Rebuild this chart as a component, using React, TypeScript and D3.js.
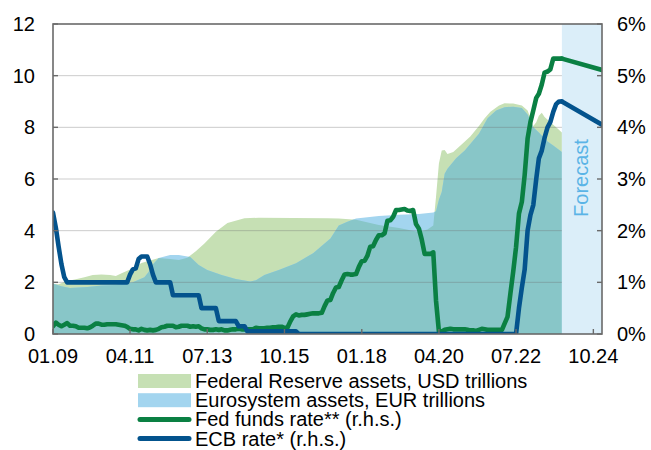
import React from "react";
import * as d3 from "d3";

// ---------- data ----------
const xTickLabels = ["01.09", "04.11", "07.13", "10.15", "01.18", "04.20", "07.22", "10.24"];
const xTickDates = ["2009-01", "2011-04", "2013-07", "2015-10", "2018-01", "2020-04", "2022-07", "2024-10"];
const leftTicks = [0, 2, 4, 6, 8, 10, 12];
const rightTickLabels = ["0%", "1%", "2%", "3%", "4%", "5%", "6%"];
const forecastStart = "2023-11";
const domainStart = "2009-01";
const domainEnd = "2025-01";

// Federal Reserve assets, USD trillions
const fedAssets: [string, number][] = [
  ["2009-01", 1.95], ["2009-03", 1.93], ["2009-06", 2.05], ["2009-09", 2.12], ["2009-12", 2.2],
  ["2010-03", 2.28], ["2010-06", 2.3], ["2010-09", 2.28], ["2010-11", 2.25], ["2011-01", 2.35],
  ["2011-05", 2.55], ["2011-08", 2.75], ["2011-11", 2.85], ["2012-02", 2.94], ["2012-06", 2.9],
  ["2012-09", 2.86], ["2012-12", 2.95], ["2013-03", 3.2], ["2013-06", 3.5], ["2013-10", 3.96],
  ["2014-02", 4.3], ["2014-08", 4.48], ["2015-01", 4.5], ["2016-01", 4.49], ["2017-01", 4.48],
  ["2017-05", 4.47], ["2017-11", 4.42], ["2018-07", 4.22], ["2019-02", 4.1], ["2019-09", 3.95],
  ["2019-12", 4.05], ["2020-02", 4.2], ["2020-03", 5.3], ["2020-04", 6.6], ["2020-05", 7.1],
  ["2020-06", 7.12], ["2020-07", 6.97], ["2020-09", 7.05], ["2020-12", 7.35], ["2021-03", 7.65],
  ["2021-06", 8.05], ["2021-08", 8.35], ["2021-10", 8.6], ["2022-01", 8.85], ["2022-03", 8.93],
  ["2022-06", 8.92], ["2022-09", 8.85], ["2022-11", 8.65], ["2023-01", 8.05], ["2023-02", 8.2],
  ["2023-03", 8.45], ["2023-04", 8.56], ["2023-05", 8.4], ["2023-07", 8.2], ["2023-09", 8.0],
  ["2023-11", 7.8],
];

// Eurosystem assets, EUR trillions
const ecbAssets: [string, number][] = [
  ["2009-01", 1.95], ["2009-04", 1.85], ["2009-07", 1.78], ["2010-01", 1.82], ["2010-06", 1.88],
  ["2010-11", 1.9], ["2011-05", 2.0], ["2011-09", 2.2], ["2011-11", 2.48], ["2011-12", 2.7],
  ["2012-02", 2.94], ["2012-06", 3.06], ["2012-09", 3.06], ["2013-01", 2.98], ["2013-04", 2.67],
  ["2013-07", 2.48], ["2013-12", 2.28], ["2014-05", 2.13], ["2014-10", 2.03], ["2014-12", 2.08],
  ["2015-03", 2.28], ["2015-08", 2.48], ["2016-02", 2.74], ["2016-08", 3.13], ["2017-02", 3.7],
  ["2017-05", 4.2], ["2017-08", 4.35], ["2017-11", 4.47], ["2018-07", 4.57], ["2019-02", 4.62],
  ["2019-09", 4.65], ["2020-02", 4.7], ["2020-03", 4.75], ["2020-04", 5.2], ["2020-05", 5.5],
  ["2020-06", 6.2], ["2020-07", 6.4], ["2020-10", 6.8], ["2021-01", 7.1], ["2021-06", 7.75],
  ["2021-09", 8.35], ["2021-12", 8.65], ["2022-03", 8.78], ["2022-06", 8.8], ["2022-09", 8.75],
  ["2022-11", 8.5], ["2023-01", 8.0], ["2023-03", 7.8], ["2023-06", 7.45], ["2023-08", 7.3],
  ["2023-11", 7.05],
];

// Fed funds rate, %, monthly from 2009-01 to 2023-11
const fedRate = [
  0.15, 0.22, 0.18, 0.15, 0.18, 0.21, 0.16, 0.16, 0.15, 0.12, 0.12, 0.12,
  0.11, 0.13, 0.16, 0.2, 0.2, 0.18, 0.18, 0.19, 0.19, 0.19, 0.19, 0.18,
  0.17, 0.16, 0.14, 0.1, 0.09, 0.09, 0.07, 0.1, 0.08, 0.07, 0.08, 0.07,
  0.08, 0.1, 0.13, 0.14, 0.16, 0.16, 0.16, 0.13, 0.14, 0.16, 0.16, 0.16,
  0.14, 0.15, 0.14, 0.15, 0.11, 0.09, 0.09, 0.08, 0.08, 0.09, 0.08, 0.09,
  0.07, 0.07, 0.08, 0.09, 0.09, 0.1, 0.09, 0.09, 0.09, 0.09, 0.09, 0.12,
  0.11, 0.11, 0.11, 0.12, 0.12, 0.13, 0.13, 0.14, 0.14, 0.12, 0.12, 0.24,
  0.34, 0.38, 0.36, 0.37, 0.37, 0.38, 0.39, 0.4, 0.4, 0.4, 0.41, 0.54,
  0.65, 0.66, 0.79, 0.9, 0.91, 1.04, 1.15, 1.16, 1.15, 1.15, 1.16, 1.3,
  1.41, 1.42, 1.51, 1.69, 1.7, 1.82, 1.91, 1.91, 1.95, 2.19, 2.2, 2.27,
  2.4, 2.4, 2.41, 2.42, 2.39, 2.38, 2.4, 2.13, 2.04, 1.83, 1.55, 1.55,
  1.55, 1.58, 0.65, 0.05, 0.05, 0.08, 0.09, 0.1, 0.09, 0.09, 0.09, 0.09,
  0.09, 0.08, 0.07, 0.07, 0.06, 0.08, 0.1, 0.09, 0.08, 0.08, 0.08, 0.08,
  0.08, 0.08, 0.2, 0.33, 0.77, 1.21, 1.68, 2.33, 2.56, 3.08, 3.78, 4.1,
  4.33, 4.57, 4.65, 4.83, 5.06, 5.08, 5.12, 5.33, 5.33, 5.33, 5.33,
];
const fedRateForecast: [string, number][] = [["2023-11", 5.33], ["2025-01", 5.11]];

// ECB rate, %, monthly from 2009-01 to 2023-11
const ecbRate = [
  2.35, 2.05, 1.7, 1.35, 1.1, 1.0, 1.0, 1.0, 1.0, 1.0, 1.0, 1.0,
  1.0, 1.0, 1.0, 1.0, 1.0, 1.0, 1.0, 1.0, 1.0, 1.0, 1.0, 1.0,
  1.0, 1.0, 1.0, 1.15, 1.25, 1.27, 1.45, 1.5, 1.5, 1.5, 1.35, 1.15,
  1.0, 1.0, 1.0, 1.0, 1.0, 1.0, 0.75, 0.75, 0.75, 0.75, 0.75, 0.75,
  0.75, 0.75, 0.75, 0.75, 0.5, 0.5, 0.5, 0.5, 0.5, 0.5, 0.25, 0.25,
  0.25, 0.25, 0.25, 0.25, 0.25, 0.15, 0.15, 0.15, 0.05, 0.05, 0.05, 0.05,
  0.05, 0.05, 0.05, 0.05, 0.05, 0.05, 0.05, 0.05, 0.05, 0.05, 0.05, 0.05,
  0.05, 0.05, 0, 0, 0, 0, 0, 0, 0, 0, 0, 0,
  0, 0, 0, 0, 0, 0, 0, 0, 0, 0, 0, 0,
  0, 0, 0, 0, 0, 0, 0, 0, 0, 0, 0, 0,
  0, 0, 0, 0, 0, 0, 0, 0, 0, 0, 0, 0,
  0, 0, 0, 0, 0, 0, 0, 0, 0, 0, 0, 0,
  0, 0, 0, 0, 0, 0, 0, 0, 0, 0, 0, 0,
  0, 0, 0, 0, 0, 0, 0, 0.5, 0.9, 1.25, 2.0, 2.3,
  2.5, 3.0, 3.4, 3.55, 3.8, 4.0, 4.1, 4.3, 4.45, 4.5, 4.5,
];
const ecbRateForecast: [string, number][] = [["2023-11", 4.5], ["2025-01", 4.05]];

const legendLabels = [
  "Federal Reserve assets, USD trillions",
  "Eurosystem assets, EUR trillions",
  "Fed funds rate** (r.h.s.)",
  "ECB rate* (r.h.s.)",
];

// ---------- style ----------
const C = {
  fedArea: "#c6e0b4",
  ecbArea: "#a3d5ef",
  overlap: "#88c6c8",
  fedLine: "#0a8043",
  ecbLine: "#03538d",
  band: "#dbeef9",
  forecastText: "#5ab4e6",
  frame: "#6a6a6a",
  grid: "rgba(110,110,110,0.35)",
};
const FONT = "'Liberation Sans', Arial, sans-serif";
const FS = 20;

const parse = d3.timeParse("%Y-%m");

export default function App() {
  const L = 53, R = 602, T = 24, B = 334;
  const x = d3.scaleTime().domain([parse(domainStart)!, parse(domainEnd)!]).range([L, R]);
  const yL = d3.scaleLinear().domain([0, 12]).range([B, T]);
  const yR = d3.scaleLinear().domain([0, 6]).range([B, T]);

  const toPts = (arr: [string, number][]) => arr.map(([d, v]) => ({ date: parse(d)!, v }));
  const monthly = (arr: number[]) =>
    arr.map((v, i) => ({ date: d3.timeMonth.offset(parse(domainStart)!, i), v }));

  const area = d3.area<{ date: Date; v: number }>()
    .x((d) => x(d.date)).y0(yL(0)).y1((d) => yL(d.v));
  const lineR = d3.line<{ date: Date; v: number }>()
    .x((d) => x(d.date)).y((d) => yR(d.v));

  const fedA = area(toPts(fedAssets))!;
  const ecbA = area(toPts(ecbAssets))!;
  const fedL = lineR(monthly(fedRate))!;
  const ecbL = lineR(monthly(ecbRate))!;
  const fedF = lineR(toPts(fedRateForecast))!;
  const ecbF = lineR(toPts(ecbRateForecast))!;
  const fx = x(parse(forecastStart)!);

  const lineStyle = { fill: "none", strokeWidth: 4.6, strokeLinejoin: "round" as const, strokeLinecap: "round" as const };

  return (
    <svg width={651} height={450} style={{ position: "absolute", left: 0, top: 0, background: "#fff" }}
      fontFamily={FONT} fontSize={FS}>
      <defs>
        <clipPath id="ecbClip"><path d={ecbA} /></clipPath>
        <clipPath id="plotClip"><rect x={L} y={T - 3} width={R - L} height={B - T + 3} /></clipPath>
      </defs>
      {/* areas */}
      <path d={fedA} fill={C.fedArea} />
      <path d={ecbA} fill={C.ecbArea} />
      <path d={fedA} fill={C.overlap} clipPath="url(#ecbClip)" />
      {/* grid */}
      {leftTicks.filter((t) => t > 0 && t < 12).map((t) => (
        <line key={t} x1={L} x2={R} y1={yL(t)} y2={yL(t)} stroke={C.grid} strokeWidth={1} />
      ))}
      {/* forecast band */}
      <rect x={fx} y={T} width={R - fx} height={B - T} fill={C.band} />
      <text transform={`translate(${fx + 19},${(T + B) / 2 - 1}) rotate(-90)`} textAnchor="middle"
        dominantBaseline="central" fill={C.forecastText}>Forecast</text>
      {/* lines */}
      <g clipPath="url(#plotClip)">
        <path d={fedL} stroke={C.fedLine} {...lineStyle} />
        <path d={fedF} stroke={C.fedLine} {...lineStyle} />
        <path d={ecbL} stroke={C.ecbLine} {...lineStyle} />
        <path d={ecbF} stroke={C.ecbLine} {...lineStyle} />
      </g>
      {/* frame */}
      <rect x={L} y={T} width={R - L} height={B - T} fill="none" stroke={C.frame} strokeWidth={1.6} />
      {/* left axis */}
      {leftTicks.map((t) => (
        <g key={"l" + t}>
          <line x1={L} x2={L + 5} y1={yL(t)} y2={yL(t)} stroke={C.frame} strokeWidth={1.4} />
          <text x={35} y={yL(t)} textAnchor="end" dominantBaseline="central" fill="#000">{t}</text>
        </g>
      ))}
      {/* right axis */}
      {rightTickLabels.map((lab, i) => (
        <g key={"r" + i}>
          <line x1={R - 5} x2={R} y1={yR(i)} y2={yR(i)} stroke={C.frame} strokeWidth={1.4} />
          <text x={617} y={yR(i)} textAnchor="start" dominantBaseline="central" fill="#000">{lab}</text>
        </g>
      ))}
      {/* bottom axis */}
      {xTickDates.map((d, i) => (
        <g key={"b" + d}>
          <line x1={x(parse(d)!)} x2={x(parse(d)!)} y1={B} y2={B - 5} stroke={C.frame} strokeWidth={1.4} />
          <text x={x(parse(d)!)} y={356} textAnchor="middle" dominantBaseline="central" fill="#000">{xTickLabels[i]}</text>
        </g>
      ))}
      {/* legend */}
      {legendLabels.map((lab, i) => {
        const cy = 381 + i * 19.2;
        return (
          <g key={"lg" + i}>
            {i < 2 ? (
              <rect x={138} y={cy - 7} width={53} height={14} fill={i === 0 ? C.fedArea : C.ecbArea} />
            ) : (
              <line x1={140} x2={189} y1={cy} y2={cy} stroke={i === 2 ? C.fedLine : C.ecbLine}
                strokeWidth={5} strokeLinecap="round" />
            )}
            <text x={195} y={cy} dominantBaseline="central" fill="#000">{lab}</text>
          </g>
        );
      })}
    </svg>
  );
}
